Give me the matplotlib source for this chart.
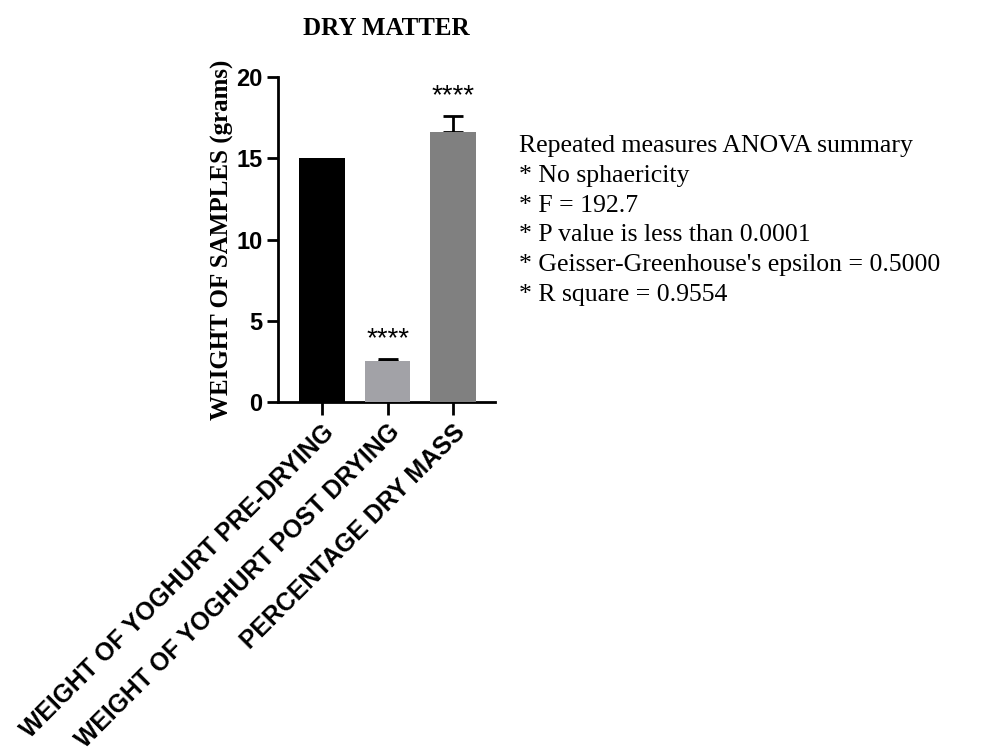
import matplotlib
matplotlib.use("Agg")
import matplotlib.pyplot as plt

# data
categories = ["WEIGHT OF YOGHURT PRE-DRYING",
              "WEIGHT OF YOGHURT POST DRYING",
              "PERCENTAGE DRY MASS"]
means = [15.0, 2.5, 16.6]
errors = [0.0, 0.15, 1.0]
stars = ["", "****", "****"]
bar_colors = ["#000000", "#a2a2a7", "#808080"]
y_ticks = [0, 5, 10, 15, 20]

summary_lines = [
    "Repeated measures ANOVA summary",
    "* No sphaericity",
    "* F = 192.7",
    "* P value is less than 0.0001",
    "* Geisser-Greenhouse's epsilon = 0.5000",
    "* R square = 0.9554",
]

fig = plt.figure(figsize=(9.89, 7.52), dpi=100)
ax = fig.add_axes([0.2811, 0.4654, 0.2194, 0.4322])

x = list(range(len(categories)))
ax.bar(x, means, width=0.69, color=bar_colors, zorder=3)

# upper-only error bars
for i in x:
    if errors[i] > 0:
        ax.errorbar(i, means[i], yerr=[[0], [errors[i]]], color="black",
                    elinewidth=2, capsize=7, capthick=2, zorder=2)
    if stars[i]:
        ax.text(i, means[i] + errors[i] + 1.2, stars[i], ha="center", va="center",
                fontsize=20, family="Liberation Sans")

ax.set_xlim(-0.672, 2.641)
ax.set_ylim(0, 20)
ax.set_yticks(y_ticks)
ax.set_xticks(x)
ax.set_xticklabels(categories, rotation=45, ha="right", va="top",
                   rotation_mode="anchor", fontsize=17.8, fontweight="bold",
                   family="Liberation Sans")
for lab in ax.get_yticklabels():
    lab.set_fontsize(17)
    lab.set_fontweight("bold")
    lab.set_family("Liberation Sans")

for side in ["top", "right"]:
    ax.spines[side].set_visible(False)
for side in ["left", "bottom"]:
    ax.spines[side].set_linewidth(2)
ax.tick_params(axis="y", direction="out", length=8, width=2, pad=3)
ax.tick_params(axis="x", direction="out", length=9, width=2, pad=4)

ax.set_ylabel("WEIGHT OF SAMPLES (grams)", fontsize=18, fontweight="bold",
              family="Liberation Serif", labelpad=2)
ax.set_title("DRY MATTER", fontsize=18, fontweight="bold",
             family="Liberation Serif", pad=30)

fig.text(519 / 989, 1 - 135 / 752, "\n".join(summary_lines), ha="left", va="top",
         fontsize=18.5, family="Liberation Serif", linespacing=1.46)

fig.savefig("out.png", dpi=100)
